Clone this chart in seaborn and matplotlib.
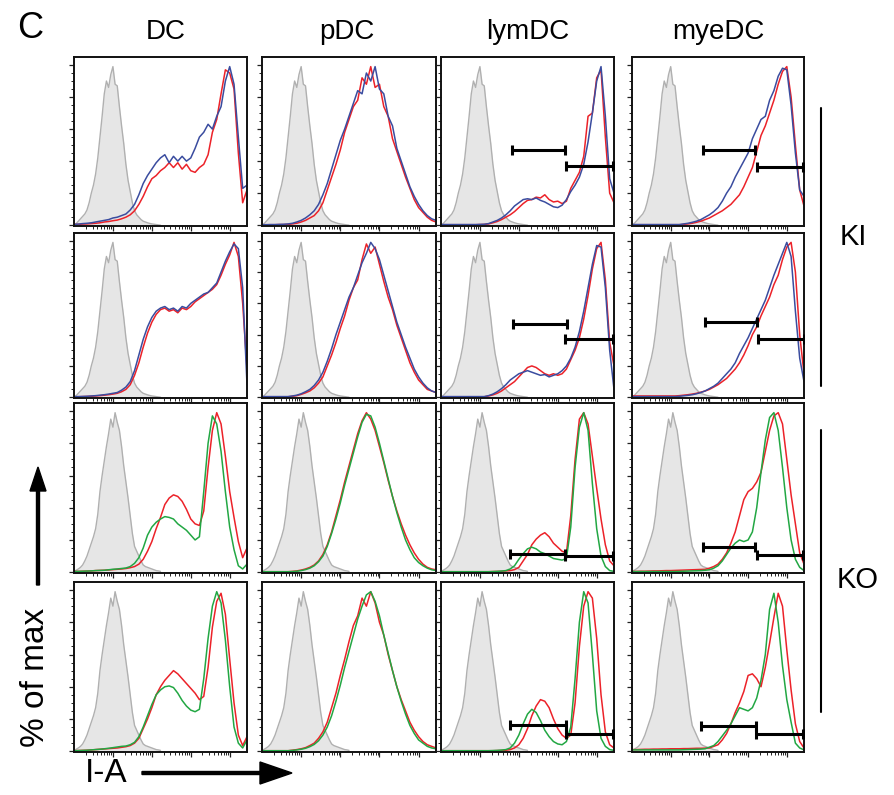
import numpy as np
import seaborn as sns
from matplotlib import pyplot as plt

# x positions on the (log) I-A axis, as % of axis width
x_pts = np.arange(0, 100.1, 2.5)
iso_x = np.arange(0, 50.1, 1.25)

# isotype control (grey filled)
iso_ki = [0.3, 1, 2.5, 4, 5.5, 7, 9.5, 14, 20, 25, 32, 42, 55, 68, 82, 90, 86, 94, 99, 88, 87,
          74, 62, 51, 38, 28, 21, 14, 9, 6.5, 5, 3.5, 2.5, 2, 1.5, 1.1, 0.8, 0.6, 0.4, 0.2, 0]
iso_ko = [0.5, 1.2, 2, 3, 4.5, 7, 10, 14, 18, 22, 27, 36, 50, 60, 69, 78, 86, 95, 90, 99, 93,
          88, 78, 66, 56, 46, 35, 24, 16, 13, 10, 7, 4.5, 3.5, 3, 2.5, 2, 1.5, 1, 0.8, 0.5]

# KI rows: red / blue ; KO rows: red / green
dc_ki1_red = [0.5, 0.5, 0.7, 0.8, 1, 1.2, 1.5, 2, 2.3, 2.8, 3.2,
              4, 5, 6.5, 9, 13, 18, 24, 29, 31, 34,
              36, 39, 36, 39, 35, 38, 34, 33, 36, 38,
              44, 58, 66, 82, 97, 95, 85, 45, 14, 22]
dc_ki1_blue = [0.5, 0.7, 1, 1.2, 1.5, 2, 2.5, 3, 3.5, 4.5, 5,
               6, 7, 9.5, 13, 19, 26, 31, 35, 39, 42,
               44, 39, 43, 40, 43, 40, 42, 48, 55, 58,
               63, 60, 68, 74, 90, 99, 88, 55, 23, 25]
pdc_ki1_red = [0.3, 0.3, 0.3, 0.3, 0.4, 0.4, 0.5, 0.8, 1.2, 2, 3,
               4.5, 6, 9, 14, 22, 30, 38, 47, 58, 66,
               74, 78, 92, 88, 99, 86, 88, 74, 68, 54,
               46, 38, 30, 23, 16, 11, 8, 5, 3, 2]
pdc_ki1_blue = [0.3, 0.3, 0.4, 0.4, 0.5, 0.6, 0.8, 1.2, 2, 3, 4.5,
                6.5, 9, 13, 19, 26, 35, 44, 53, 60, 68,
                76, 84, 82, 95, 90, 99, 85, 82, 68, 62,
                48, 40, 32, 24, 18, 13, 9, 6, 4, 3]
lym_ki1_red = [0.3, 0.3, 0.3, 0.3, 0.3, 0.3, 0.3, 0.3, 0.3, 0.4, 0.5,
               0.8, 1.5, 2.3, 3.5, 5, 6.5, 8.5, 11, 13.5, 15.5,
               16, 17.5, 17, 19, 16, 14.5, 15, 13.5, 15, 23,
               28, 33, 43, 68, 70, 92, 97, 55, 20, 14]
lym_ki1_blue = [0.4, 0.4, 0.4, 0.4, 0.4, 0.4, 0.4, 0.4, 0.4, 0.5, 0.6,
                1, 2, 3, 4.5, 6.5, 9, 12, 14, 16, 16.5,
                16, 17, 15.5, 14.5, 13, 11.5, 11, 12.5, 16, 21,
                25, 30, 38, 52, 70, 90, 99, 68, 29, 20]
mye_ki1_red = [0.3, 0.3, 0.3, 0.3, 0.3, 0.3, 0.3, 0.3, 0.3, 0.3, 0.3,
               0.3, 0.5, 0.8, 1.2, 1.8, 2.5, 3.5, 4.5, 6, 7.5,
               9, 11, 13, 16, 19, 24, 30, 36, 46, 56,
               62, 70, 78, 88, 96, 99, 80, 50, 22, 12]
mye_ki1_blue = [0.4, 0.4, 0.4, 0.4, 0.4, 0.4, 0.4, 0.4, 0.4, 0.4, 0.4,
                0.4, 0.8, 1.2, 1.8, 2.5, 3.5, 5, 6.5, 8.5, 11,
                15, 20, 24, 30, 35, 40, 45, 54, 60, 66,
                68, 78, 84, 93, 98, 97, 75, 45, 22, 18]

dc_ki2_red = [0.3, 0.3, 0.4, 0.5, 0.6, 0.8, 1, 1.3, 1.6, 2, 2.5,
              3.5, 5, 8, 14, 22, 32, 41, 48, 53, 56,
              57, 55, 56, 54, 57, 56, 58, 61, 63, 65,
              67, 69, 72, 78, 85, 91, 99, 90, 60, 18]
dc_ki2_blue = [0.4, 0.4, 0.5, 0.6, 0.8, 1, 1.3, 1.6, 2, 2.5, 3,
               4.5, 6.5, 10, 17, 27, 37, 45, 51, 55, 57,
               58, 56, 57, 55, 58, 57, 60, 62, 64, 66,
               67, 70, 73, 80, 87, 93, 98, 95, 70, 8]
pdc_ki2_red = [0.3, 0.3, 0.3, 0.3, 0.3, 0.3, 0.3, 0.6, 1, 1.8, 2.8,
               4, 6, 9, 13, 20, 27, 35, 44, 52, 62,
               70, 75, 88, 98, 92, 96, 85, 74, 64, 56,
               46, 38, 30, 22, 16, 11, 8, 5, 4, 3]
pdc_ki2_blue = [0.4, 0.4, 0.4, 0.4, 0.4, 0.4, 0.4, 0.8, 1.3, 2.2, 3.5,
                5, 7.5, 11, 16, 23, 31, 40, 48, 56, 64,
                70, 78, 86, 92, 99, 95, 88, 78, 68, 58,
                48, 40, 32, 25, 18, 13, 9, 6, 4, 3]
lym_ki2_red = [0.3, 0.3, 0.3, 0.3, 0.3, 0.3, 0.3, 0.3, 0.3, 0.3, 0.3,
               0.8, 1.5, 2.5, 4, 6, 8, 10, 13, 16, 19,
               20, 19, 17, 15, 14, 15, 14, 15, 18, 24,
               30, 38, 50, 65, 82, 95, 99, 75, 35, 20]
lym_ki2_blue = [0.4, 0.4, 0.4, 0.4, 0.4, 0.4, 0.4, 0.4, 0.4, 0.4, 0.4,
                1, 2, 3.5, 5.5, 8, 11, 13, 15, 16, 17,
                16, 15, 14, 14.5, 13, 14, 15, 17, 20, 25,
                32, 42, 55, 70, 85, 97, 96, 70, 30, 5]
mye_ki2_red = [0.8, 0.8, 0.8, 0.8, 0.8, 0.8, 0.8, 0.8, 0.8, 0.8, 0.8,
               1, 1.3, 1.6, 2, 2.5, 3.2, 4, 5, 6.5, 8,
               10, 12, 15, 18, 22, 27, 33, 40, 45, 52,
               58, 64, 72, 78, 88, 96, 99, 80, 40, 15]
mye_ki2_blue = [0.4, 0.4, 0.4, 0.4, 0.4, 0.4, 0.4, 0.4, 0.4, 0.4, 0.4,
                0.6, 0.9, 1.2, 1.6, 2.2, 3, 4, 5.5, 7, 9,
                12, 15, 18, 22, 28, 33, 38, 44, 50, 56,
                62, 70, 78, 85, 92, 99, 90, 55, 25, 10]

dc_ko1_red = [0.5, 0.5, 0.6, 0.7, 0.8, 1, 1.1, 1.2, 1.4, 1.6, 1.8,
              2, 2.3, 2.8, 3.5, 5, 8, 13, 19, 27, 34,
              42, 46, 48, 47, 44, 39, 33, 30, 29, 38,
              65, 88, 99, 92, 72, 50, 34, 19, 9, 15]
dc_ko1_green = [0.5, 0.5, 0.6, 0.7, 0.8, 1, 1.1, 1.2, 1.5, 1.8, 2,
                2.3, 2.6, 3.5, 5.5, 9, 15, 23, 28, 31, 33,
                34.5, 34, 33, 30, 28, 26, 23, 20, 22, 50,
                80, 97, 92, 75, 50, 28, 14, 4, 2, 5]
pdc_ko1_red = [0.3, 0.3, 0.3, 0.3, 0.3, 0.3, 0.3, 0.5, 0.8, 1.3, 2,
               3, 4.5, 7, 11, 17, 25, 35, 45, 56, 66,
               76, 86, 94, 99, 95, 88, 78, 68, 57, 47,
               38, 30, 23, 17, 12, 8, 5, 3, 2, 1.5]
pdc_ko1_green = [0.3, 0.3, 0.3, 0.3, 0.3, 0.3, 0.3, 0.4, 0.6, 1, 1.6,
                 2.5, 4, 6.5, 10, 16, 24, 33, 43, 54, 64,
                 74, 84, 93, 98, 97, 90, 80, 69, 58, 47,
                 37, 28, 20, 14, 9, 6, 4, 2.5, 1.5, 1]
lym_ko1_red = [0.3, 0.3, 0.3, 0.3, 0.3, 0.3, 0.3, 0.3, 0.3, 0.3, 0.3,
               0.3, 0.4, 0.5, 0.6, 0.8, 1, 1.6, 3, 7, 11,
               17, 20.5, 23, 24.5, 22, 18, 15.5, 13, 12, 35,
               70, 95, 99, 92, 72, 52, 33, 17, 7, 4]
lym_ko1_green = [0.3, 0.3, 0.3, 0.3, 0.3, 0.3, 0.3, 0.3, 0.3, 0.3, 0.3,
                 0.3, 0.4, 0.5, 0.7, 1, 2, 4, 8, 11.5, 14.5,
                 15.5, 14.5, 12.5, 11.5, 10, 8.5, 8, 7.5, 8.5, 28,
                 65, 90, 99, 88, 55, 27, 10, 3.5, 1, 0.5]
mye_ko1_red = [0.5, 0.5, 0.6, 0.6, 0.7, 0.8, 0.8, 0.9, 1, 1, 1.1,
               1.2, 1.3, 1.4, 1.5, 1.6, 1.7, 1.8, 2.5, 3.5, 5,
               8, 12, 18, 25, 35, 45, 50, 52, 56, 62,
               75, 88, 97, 99, 92, 70, 48, 30, 12, 5]
mye_ko1_green = [0.4, 0.4, 0.4, 0.4, 0.4, 0.4, 0.4, 0.4, 0.4, 0.4, 0.4,
                 0.5, 0.6, 0.7, 0.8, 0.9, 1, 1.2, 1.5, 2.5, 4,
                 7, 11, 15, 18, 20, 19, 20, 25, 40, 62,
                 82, 96, 99, 88, 65, 40, 20, 8, 3, 1]

dc_ko2_red = [0.3, 0.4, 0.5, 0.6, 0.8, 1, 1.2, 1.4, 1.6, 1.8, 2,
              2.4, 2.8, 3.5, 5, 8, 14, 20, 27, 35, 40,
              44, 47, 50, 48, 45, 42, 39, 36, 32, 34,
              52, 77, 93, 98, 85, 57, 30, 10, 3.5, 9]
dc_ko2_green = [0.3, 0.4, 0.5, 0.6, 0.8, 1, 1.2, 1.5, 1.8, 2.2, 2.6,
                3, 3.2, 4, 5.5, 9, 15, 22, 29, 35, 38,
                40, 40.5, 39.5, 36, 31.5, 28, 25.5, 24.5, 26, 45,
                70, 90, 99, 92, 69, 40, 15, 5, 2, 7]
pdc_ko2_red = [0.3, 0.3, 0.3, 0.3, 0.3, 0.3, 0.3, 0.6, 1, 1.5, 2.2,
               3.5, 5, 8, 12, 18, 27, 36, 47, 57, 68,
               78, 84, 95, 90, 99, 92, 80, 72, 60, 50,
               40, 32, 25, 18, 13, 9, 6, 4, 3, 2]
pdc_ko2_green = [0.3, 0.3, 0.3, 0.3, 0.3, 0.3, 0.3, 0.5, 0.8, 1.2, 1.8,
                 2.8, 4.2, 6.5, 10, 15, 22, 31, 41, 52, 62,
                 72, 82, 90, 97, 99, 93, 84, 72, 61, 50,
                 40, 31, 23, 16, 11, 7, 5, 3, 2, 1.5]
lym_ko2_red = [0.3, 0.3, 0.3, 0.3, 0.3, 0.3, 0.3, 0.3, 0.3, 0.3, 0.3,
               0.3, 0.3, 0.4, 0.5, 0.6, 1, 2, 4, 8, 14,
               22, 28, 32, 31, 27, 20, 14, 10, 8, 10,
               30, 65, 90, 99, 95, 70, 35, 12, 4, 2]
lym_ko2_green = [0.3, 0.3, 0.3, 0.3, 0.3, 0.3, 0.3, 0.3, 0.3, 0.3, 0.3,
                 0.3, 0.4, 0.5, 0.7, 1, 2, 5, 10, 17, 23,
                 26, 24, 19, 13, 9, 6, 4.5, 4, 6, 15,
                 45, 80, 99, 92, 60, 25, 8, 3, 1, 0.5]
mye_ko2_red = [1, 1, 1.1, 1.2, 1.2, 1.3, 1.3, 1.4, 1.4, 1.5, 1.5,
               1.5, 1.6, 1.6, 1.7, 1.8, 1.8, 1.9, 2, 3, 4,
               7, 11, 17, 24, 30, 37, 47, 48, 45, 40,
               52, 67, 83, 98, 90, 63, 38, 17, 6, 2]
mye_ko2_green = [0.8, 0.8, 0.8, 0.8, 0.8, 0.8, 0.8, 0.8, 0.8, 0.8, 0.8,
                 0.8, 0.9, 1, 1.1, 1.2, 1.3, 1.5, 2.5, 3.5, 6,
                 9.5, 13, 17, 22, 27, 26, 25, 27, 33, 44,
                 60, 88, 98, 80, 53, 32, 18, 5, 2, 0.8]

# gates: (x start, x end, height %) per row
lym_gate_upper = [(41, 71.5, 46.7), (41.6, 72.8, 47), (39.8, 71.8, 11.6), (40, 72, 16)]
lym_gate_lower = [(72, 99.4, 37), (71.7, 99.4, 37), (71.8, 99.6, 10), (72, 99.4, 10.4)]
mye_gate_upper = [(41.3, 71.5, 47), (42.4, 72.7, 47.8), (41.3, 71.5, 15.7), (40.2, 72.2, 15.6)]
mye_gate_lower = [(72.7, 99.4, 36.6), (73.3, 99.8, 37), (72.7, 99.4, 10.7), (72.2, 99.4, 10.4)]

columns = ['DC', 'pDC', 'lymDC', 'myeDC']
groups = ['KI', 'KO']

rows = [
    (iso_ki, [dc_ki1_red, pdc_ki1_red, lym_ki1_red, mye_ki1_red],
     [dc_ki1_blue, pdc_ki1_blue, lym_ki1_blue, mye_ki1_blue], 'blue'),
    (iso_ki, [dc_ki2_red, pdc_ki2_red, lym_ki2_red, mye_ki2_red],
     [dc_ki2_blue, pdc_ki2_blue, lym_ki2_blue, mye_ki2_blue], 'blue'),
    (iso_ko, [dc_ko1_red, pdc_ko1_red, lym_ko1_red, mye_ko1_red],
     [dc_ko1_green, pdc_ko1_green, lym_ko1_green, mye_ko1_green], 'green'),
    (iso_ko, [dc_ko2_red, pdc_ko2_red, lym_ko2_red, mye_ko2_red],
     [dc_ko2_green, pdc_ko2_green, lym_ko2_green, mye_ko2_green], 'green'),
]

colors = {'red': '#ec2229', 'blue': '#3a4c9f', 'green': '#22a743'}

sns.set_style('ticks')
plt.rcParams['font.family'] = ['Liberation Sans', 'DejaVu Sans']
plt.rcParams['text.color'] = 'black'

W, H = 895, 795
fig = plt.figure(figsize=(W / 100, H / 100), dpi=100)

col_left = [74, 262, 441, 632]
col_right = [247, 436, 614, 804]
row_top = [57, 233, 403, 582]
row_bottom = [226, 398, 573, 752]

minor_x = [b + 22.5 * np.log10(k) for b in [0, 22.5, 45, 67.5] for k in range(2, 10)]

for r, (iso, reds, others, other_color) in enumerate(rows):
    for c in range(4):
        l, rr = col_left[c], col_right[c]
        t, b = row_top[r], row_bottom[r]
        ax = fig.add_axes([l / W, 1 - b / H, (rr - l) / W, (b - t) / H])
        ax.fill_between(iso_x, iso, color='#e6e6e6', lw=0)
        sns.lineplot(x=iso_x, y=iso, color='#b0b0b0', lw=1.0, ax=ax)
        sns.lineplot(x=x_pts, y=reds[c], color=colors['red'], lw=1.1, ax=ax)
        sns.lineplot(x=x_pts, y=others[c], color=colors[other_color], lw=1.1, ax=ax)

        gates = []
        if c == 2:
            gates = [lym_gate_upper[r], lym_gate_lower[r]]
        elif c == 3:
            gates = [mye_gate_upper[r], mye_gate_lower[r]]
        for x0, x1, gy in gates:
            ax.errorbar(x=(x0 + x1) / 2, y=gy, xerr=(x1 - x0) / 2, fmt='none', ecolor='black',
                        elinewidth=2.2, capsize=3.5, capthick=2.2, zorder=5)

        ax.set_xlim(0, 100)
        ax.set_ylim(-0.5, 105)
        ax.set_xticks([22.5, 45, 67.5, 90])
        ax.set_xticks(minor_x, minor=True)
        ax.set_yticks(np.arange(0, 101, 20))
        ax.set_yticks(np.arange(0, 101, 5), minor=True)
        ax.set_xticklabels([])
        ax.set_yticklabels([])
        ax.tick_params(which='major', length=3.5, width=0.9, color='#222222')
        ax.tick_params(which='minor', length=2, width=0.7, color='#222222')
        ax.set_xlabel('')
        ax.set_ylabel('')
        for sp in ax.spines.values():
            sp.set_visible(True)
            sp.set_linewidth(1.4)
            sp.set_color('#111111')

# overlay for labels, brackets and arrows (pixel coordinates)
ov = fig.add_axes([0, 0, 1, 1], zorder=10)
ov.set_xlim(0, W)
ov.set_ylim(H, 0)
ov.axis('off')
ov.patch.set_alpha(0)

ov.text(30, 28, 'C', fontsize=26, ha='center', va='center', color='black')
title_x = [166, 347, 528, 718]
for name, tx in zip(columns, title_x):
    ov.text(tx, 32, name, fontsize=20, ha='center', va='center', color='black')

ov.plot([821, 821], [108, 386], color='black', lw=1.5)
ov.plot([821, 821], [430, 712], color='black', lw=1.5)
ov.text(853, 237, groups[0], fontsize=21, ha='center', va='center', color='black')
ov.text(858, 580, groups[1], fontsize=21, ha='center', va='center', color='black')

ov.text(36, 677, '% of max', fontsize=24, rotation=90, ha='center', va='center', color='black')
ov.arrow(38, 585, 0, -118, width=3, head_width=16, head_length=24,
         length_includes_head=True, color='black')
ov.text(106, 774, 'I-A', fontsize=24, ha='center', va='center', color='black')
ov.arrow(142, 773, 150, 0, width=3, head_width=22, head_length=32,
         length_includes_head=True, color='black')

fig.savefig('out.png', dpi=100)
